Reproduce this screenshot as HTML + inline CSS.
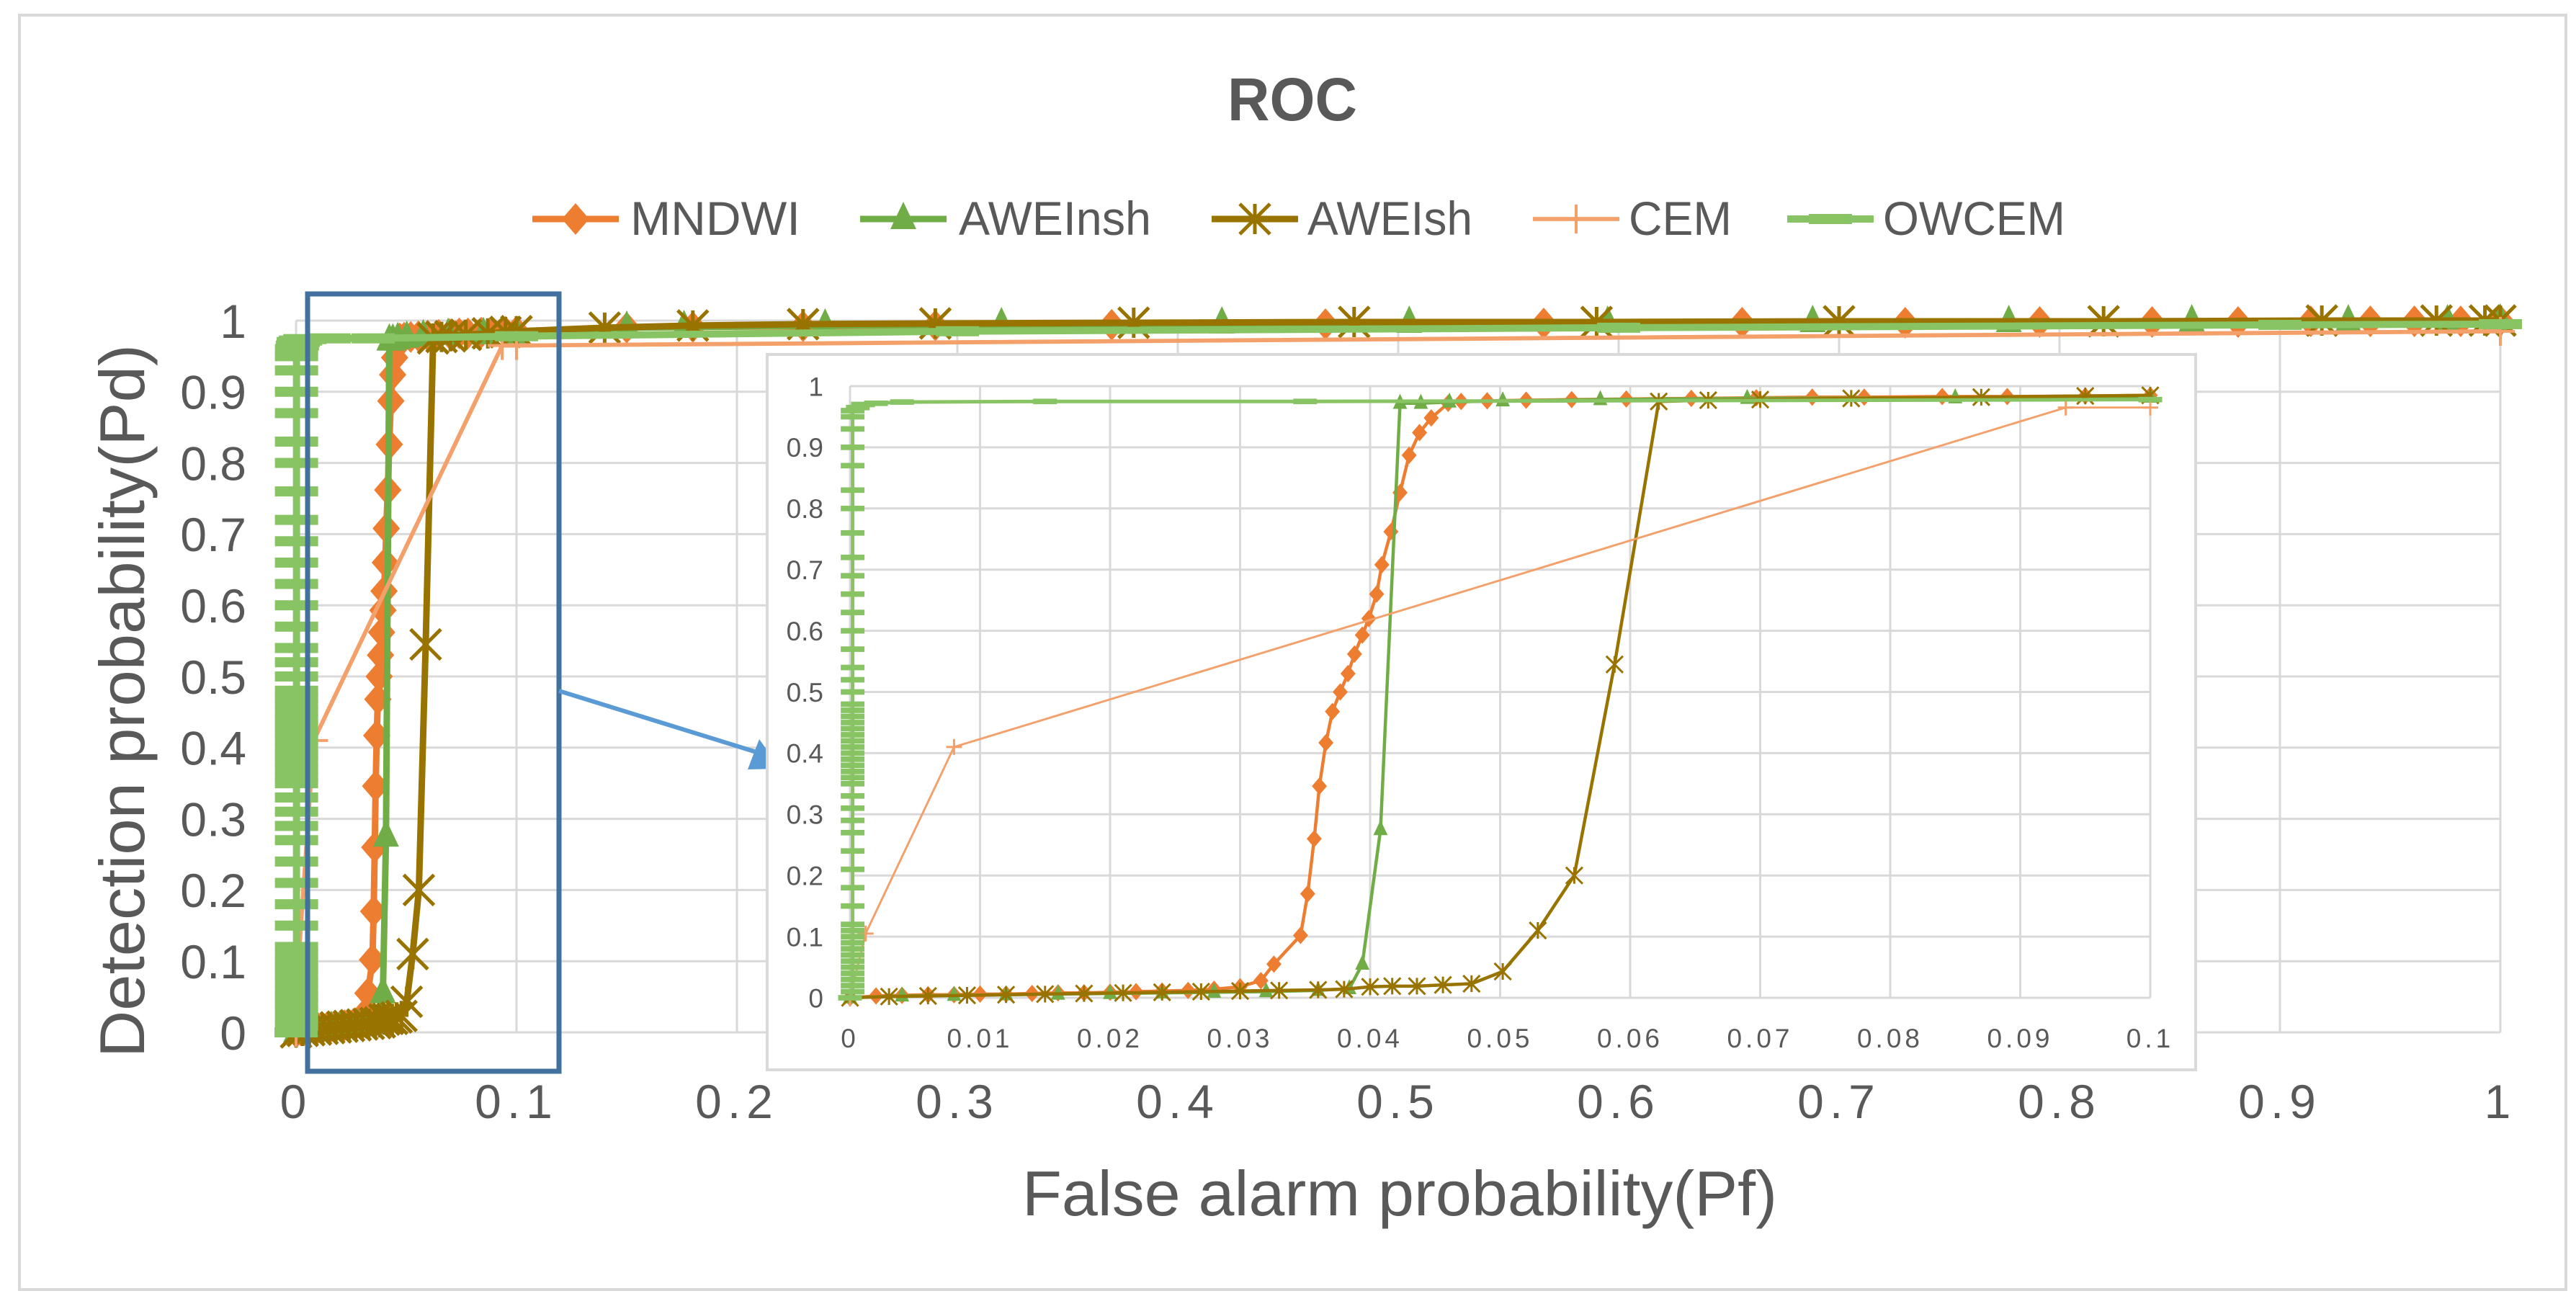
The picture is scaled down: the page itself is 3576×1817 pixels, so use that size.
<!DOCTYPE html>
<html><head><meta charset="utf-8"><title>ROC</title>
<style>html,body{margin:0;padding:0;background:#fff}svg{display:block}text{font-family:"Liberation Sans",sans-serif;fill:#595959}</style>
</head><body>
<svg id="chart" width="3576" height="1817" viewBox="0 0 3576 1817" xmlns="http://www.w3.org/2000/svg">
<rect x="0" y="0" width="3576" height="1817" fill="#fff"/>
<rect x="27" y="21" width="3535" height="1769" fill="none" stroke="#d9d9d9" stroke-width="4"/>
<text x="1794" y="167" font-size="84" font-weight="bold" text-anchor="middle" textLength="180" lengthAdjust="spacingAndGlyphs">ROC</text>
<g id="main-grid"></g>
<g id="main-series"></g>
<g id="main-ticks"></g>
<text x="1943" y="1687" font-size="88" text-anchor="middle" textLength="1048" lengthAdjust="spacingAndGlyphs">False alarm probability(Pf)</text>
<text transform="translate(200,973) rotate(-90)" font-size="88" text-anchor="middle" textLength="990" lengthAdjust="spacingAndGlyphs">Detection probability(Pd)</text>
<g id="legend"></g>
<rect x="427" y="408" width="349" height="1079" fill="none" stroke="#41719C" stroke-width="7"/>
<line x1="776" y1="959" x2="1050" y2="1044" stroke="#5B9BD5" stroke-width="6"/>
<polygon points="1083,1067 1038,1068 1054,1026" fill="#5B9BD5"/>
<rect x="1065" y="492" width="1983" height="993" fill="#fff" stroke="#d9d9d9" stroke-width="4"/>
<g id="inset-grid"></g>
<g id="inset-series"></g>
<g id="inset-ticks"></g>
</svg>
<script>
// ---- data (shared by main chart and inset) ----
const seriesNames = ["MNDWI","AWEInsh","AWEIsh","CEM","OWCEM"];
const mndwiX = [0,0.002,0.004,0.006,0.008,0.010,0.012,0.014,0.016,0.018,0.020,0.022,0.024,0.026,0.028,0.030,0.0316,0.0326,0.03465,0.0352,0.0357,0.0361,0.0366,0.0371,0.0377,0.0383,0.0388,0.0394,0.0399,0.0405,0.0409,0.0416,0.0423,0.043,0.0438,0.0447,0.046,0.047,0.049,0.052,0.0555,0.0597,0.0647,0.0697,0.074,0.078,0.084,0.089,0.095,0.1,0.15,0.18,0.23,0.29,0.37,0.467,0.566,0.656,0.73,0.791,0.842,0.881,0.914,0.941,0.961,0.982,1.0];
const mndwiY = [0,0.003,0.004,0.005,0.005,0.006,0.006,0.007,0.008,0.008,0.009,0.010,0.011,0.012,0.014,0.018,0.028,0.055,0.102,0.17,0.26,0.346,0.417,0.468,0.50,0.53,0.562,0.593,0.62,0.66,0.708,0.762,0.826,0.887,0.924,0.948,0.972,0.975,0.976,0.977,0.978,0.979,0.98,0.981,0.982,0.982,0.983,0.983,0.984,0.985,0.99,0.991,0.992,0.993,0.994,0.995,0.996,0.997,0.997,0.998,0.998,0.998,0.999,0.999,0.999,0.999,1.0];
const aweinshX = [0,0.004,0.008,0.012,0.016,0.020,0.024,0.028,0.032,0.036,0.0384,0.0394,0.0408,0.0423,0.0439,0.0461,0.0502,0.0577,0.069,0.085,0.1,0.15,0.176,0.24,0.32,0.42,0.505,0.595,0.688,0.777,0.86,0.931,0.976,1.0];
const aweinshY = [0,0.003,0.004,0.005,0.006,0.007,0.008,0.009,0.010,0.012,0.015,0.055,0.275,0.972,0.972,0.974,0.976,0.978,0.98,0.981,0.982,0.99,0.991,0.993,0.995,0.996,0.997,0.997,0.998,0.998,0.999,0.999,0.999,1.0];
const aweishX = [0,0.003,0.006,0.009,0.012,0.015,0.018,0.021,0.024,0.027,0.030,0.033,0.036,0.038,0.040,0.0417,0.0436,0.0456,0.0478,0.0502,0.0529,0.0557,0.0588,0.0622,0.066,0.070,0.077,0.087,0.095,0.1,0.14,0.18,0.23,0.29,0.38,0.48,0.59,0.70,0.82,0.919,0.971,0.993,1.0];
const aweishY = [0,0.002,0.003,0.004,0.005,0.006,0.007,0.008,0.009,0.010,0.011,0.012,0.013,0.014,0.018,0.019,0.019,0.021,0.023,0.043,0.11,0.20,0.545,0.975,0.977,0.978,0.98,0.982,0.984,0.985,0.99,0.993,0.995,0.996,0.997,0.998,0.998,0.999,0.999,1.0,1.0,1.0,1.0];
const cemX = [0,0.0012,0.008,0.0935,0.1,1.0];
const cemY = [0,0.105,0.41,0.965,0.965,0.985];
const owcemX = [0,0.0002,0.0002,0.0002,0.0002,0.0002,0.0002,0.0002,0.0002,0.0002,0.0002,0.0002,0.0002,0.0002,0.0002,0.0002,0.0002,0.0002,0.0002,0.0002,0.0002,0.0002,0.0002,0.0002,0.0002,0.0002,0.0002,0.0002,0.0002,0.0002,0.0002,0.0002,0.0002,0.0002,0.0002,0.0002,0.0002,0.0002,0.0002,0.0002,0.0002,0.0002,0.0002,0.0002,0.0002,0.0002,0.0002,0.0002,0.0002,0.0002,0.0002,0.0002,0.0006,0.001,0.002,0.004,0.015,0.035,0.1,0.3,0.6,0.9,1.0];
const owcemY = [0,0.01,0.02,0.03,0.04,0.05,0.06,0.07,0.08,0.09,0.10,0.11,0.12,0.15,0.18,0.21,0.24,0.27,0.29,0.31,0.33,0.35,0.36,0.37,0.38,0.39,0.40,0.41,0.42,0.43,0.44,0.45,0.46,0.47,0.48,0.50,0.52,0.54,0.57,0.60,0.63,0.66,0.69,0.72,0.76,0.80,0.83,0.87,0.90,0.93,0.95,0.96,0.965,0.97,0.972,0.974,0.975,0.975,0.978,0.985,0.99,0.994,0.995];
const mainXTicks = ["0","0.1","0.2","0.3","0.4","0.5","0.6","0.7","0.8","0.9","1"];
const mainYTicks = ["0","0.1","0.2","0.3","0.4","0.5","0.6","0.7","0.8","0.9","1"];
const insetXTicks = ["0","0.01","0.02","0.03","0.04","0.05","0.06","0.07","0.08","0.09","0.1"];
const insetYTicks = ["0","0.1","0.2","0.3","0.4","0.5","0.6","0.7","0.8","0.9","1"];

const NS = "http://www.w3.org/2000/svg";
function mk(tag, parent){ const e=document.createElementNS(NS,tag); parent.appendChild(e); return e; }

const MAIN = {x0:411, xw:3060, xmax:1, y0:1433, yh:988, lw:9, ms:1, grid:"main-grid", ser:"main-series", ticks:"main-ticks"};
const INSET = {x0:1180, xw:1805, xmax:0.1, y0:1385, yh:849, lw:4.5, ms:0.55, grid:"inset-grid", ser:"inset-series", ticks:"inset-ticks"};
function sx(c,v){ return c.x0 + v / c.xmax * c.xw; }
function sy(c,v){ return c.y0 - v * c.yh; }

const styles = [
  {name:"mndwi", color:"#ED7D31", marker:"diamond", x:mndwiX, y:mndwiY, lwf:1},
  {name:"aweinsh", color:"#70AD47", marker:"triangle", x:aweinshX, y:aweinshY, lwf:1},
  {name:"aweish", color:"#997300", marker:"star", x:aweishX, y:aweishY, lwf:1},
  {name:"cem", color:"#F4A06A", marker:"plus", x:cemX, y:cemY, lwf:0.65},
  {name:"owcem", color:"#89C464", marker:"dash", x:owcemX, y:owcemY, lwf:1.1}
];

function drawMarker(g, type, px, py, s, color){
  let e;
  if(type==="diamond"){
    e = mk("polygon", g);
    
    
    e.setAttribute("points", `${px},${py-22*s} ${px+19*s},${py} ${px},${py+22*s} ${px-19*s},${py}`);
    e.setAttribute("fill", color);
  } else if(type==="triangle"){
    e = mk("polygon", g);
    
    
    e.setAttribute("points", `${px},${py-24*s} ${px+18*s},${py+14*s} ${px-18*s},${py+14*s}`);
    e.setAttribute("fill", color);
  } else if(type==="star"){
    e = mk("path", g);
    
    
    const r=21*s;
    e.setAttribute("d", `M${px-r},${py-r}L${px+r},${py+r}M${px+r},${py-r}L${px-r},${py+r}M${px},${py-r}L${px},${py+r}`);
    e.setAttribute("stroke", color); e.setAttribute("stroke-width", Math.max(3,5*s)); e.setAttribute("fill","none");
  } else if(type==="plus"){
    e = mk("path", g);
    
    
    const r=20*s;
    e.setAttribute("d", `M${px-r},${py}L${px+r},${py}M${px},${py-r}L${px},${py+r}`);
    e.setAttribute("stroke", color); e.setAttribute("stroke-width", Math.max(3,4*s)); e.setAttribute("fill","none");
  } else {
    e = mk("rect", g);
    
    
    e.setAttribute("x", px-30*s); e.setAttribute("y", py-7*s);
    e.setAttribute("width", 60*s); e.setAttribute("height", Math.max(6,14*s));
    e.setAttribute("fill", color);
  }
}

function drawChart(c, xt, yt, fs, bigTicks){
  const grid = document.getElementById(c.grid);
  for(let i=0;i<xt.length;i++){
    const v = i/(xt.length-1)*c.xmax;
    const l = mk("line", grid);
    
    
    l.setAttribute("x1", sx(c,v)); l.setAttribute("x2", sx(c,v));
    l.setAttribute("y1", sy(c,0)); l.setAttribute("y2", sy(c,1));
    l.setAttribute("stroke", "#d9d9d9"); l.setAttribute("stroke-width", 3);
  }
  for(let i=0;i<yt.length;i++){
    const v = i/(yt.length-1);
    const l = mk("line", grid);
    
    
    l.setAttribute("x1", sx(c,0)); l.setAttribute("x2", sx(c,c.xmax));
    l.setAttribute("y1", sy(c,v)); l.setAttribute("y2", sy(c,v));
    l.setAttribute("stroke", "#d9d9d9"); l.setAttribute("stroke-width", 3);
  }
  const ticks = document.getElementById(c.ticks);
  for(let i=0;i<xt.length;i++){
    const v = i/(xt.length-1)*c.xmax;
    const t = mk("text", ticks);
    
    
    t.setAttribute("x", sx(c,v)); t.setAttribute("y", bigTicks ? 1552 : 1454);
    t.setAttribute("font-size", fs); t.setAttribute("text-anchor", "middle");
    t.setAttribute("letter-spacing", bigTicks ? 8 : 5);
    t.textContent = xt[i];
  }
  for(let i=0;i<yt.length;i++){
    const v = i/(yt.length-1);
    const t = mk("text", ticks);
    
    
    t.setAttribute("x", bigTicks ? 342 : 1143); t.setAttribute("y", sy(c,v) + fs*0.36);
    t.setAttribute("font-size", fs); t.setAttribute("text-anchor", "end");
    t.textContent = yt[i];
  }
  const ser = document.getElementById(c.ser);
  styles.forEach(st => {
    const g = mk("g", ser);
    
    
    const pts = [];
    for(let i=0;i<st.x.length;i++){ if(st.x[i] <= c.xmax + 1e-9) pts.push([sx(c,st.x[i]), sy(c,st.y[i])]); }
    const pl = mk("polyline", g);
    
    
    pl.setAttribute("points", pts.map(p=>p.join(",")).join(" "));
    pl.setAttribute("fill", "none"); pl.setAttribute("stroke", st.color);
    pl.setAttribute("stroke-width", c.lw*st.lwf); pl.setAttribute("stroke-linejoin", "round");
    pts.forEach(p => drawMarker(g, st.marker, p[0], p[1], c.ms, st.color));
  });
}
drawChart(MAIN, mainXTicks, mainYTicks, 66, true);
drawChart(INSET, insetXTicks, insetYTicks, 37, false);

// legend
const legendX = [739, 1194, 1682, 2128, 2481];
const legendTextX = [875, 1331, 1815, 2261, 2614];
const legendTextW = [236, 267, 229, 143, 253];
const lg = document.getElementById("legend");
styles.forEach((st,i) => {
  const g = mk("g", lg);
  
  
  const l = mk("line", g);
  
  
  l.setAttribute("x1", legendX[i]); l.setAttribute("x2", legendX[i]+120);
  l.setAttribute("y1", 304); l.setAttribute("y2", 304);
  l.setAttribute("stroke", st.color); l.setAttribute("stroke-width", 9*st.lwf);
  drawMarker(g, st.marker, legendX[i]+60, 304, 1, st.color);
  const t = mk("text", g);
  
  
  t.setAttribute("x", legendTextX[i]); t.setAttribute("y", 326);
  t.setAttribute("font-size", 66);
  t.setAttribute("textLength", legendTextW[i]); t.setAttribute("lengthAdjust", "spacingAndGlyphs");
  t.textContent = seriesNames[i];
});
</script>
</body></html>
